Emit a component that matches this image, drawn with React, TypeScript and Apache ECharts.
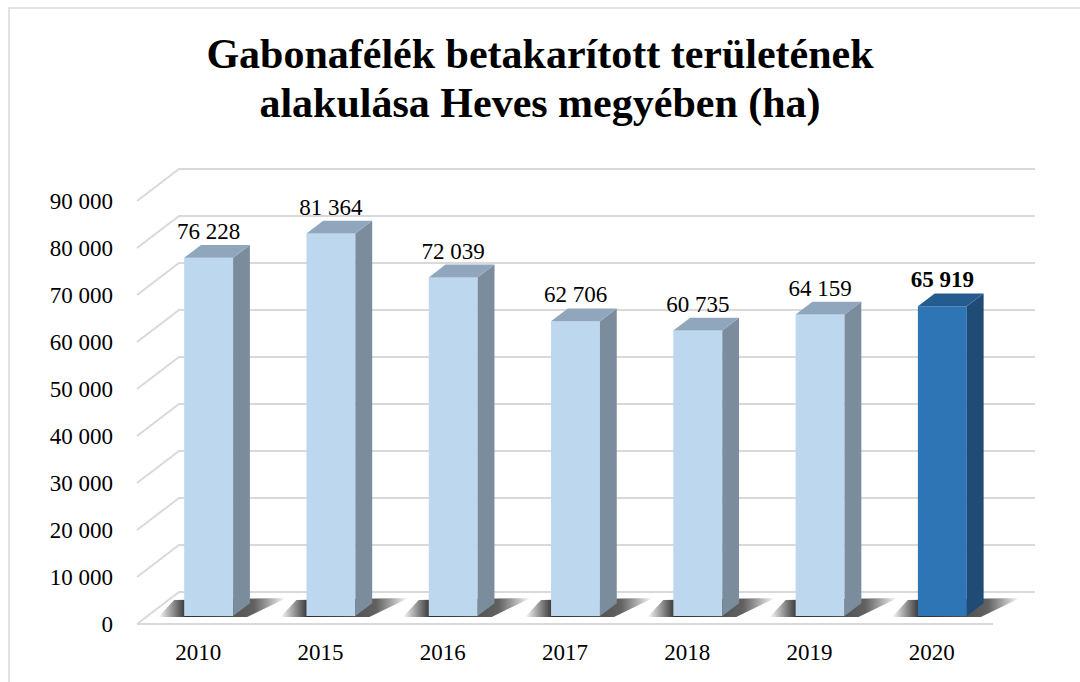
import React, { useEffect, useRef } from "react";
import * as echarts from "echarts";

const categories = ["2010", "2015", "2016", "2017", "2018", "2019", "2020"];
const values = [76228, 81364, 72039, 62706, 60735, 64159, 65919];
const highlighted = [false, false, false, false, false, false, true];
const yTicks = [0, 10000, 20000, 30000, 40000, 50000, 60000, 70000, 80000, 90000];

const titleLines = ["Gabonafélék betakarított területének", "alakulása Heves megyében (ha)"];

const FONT = "'Liberation Serif', 'Times New Roman', serif";
const DX = 42; // full depth offset x
const DY = -32; // full depth offset y
const D0 = 0.25; // bar front depth
const D1 = 0.65; // bar back depth
const GRID = "#d9d9d9";

const fmt = (v: number) => String(v).replace(/\B(?=(\d{3})+(?!\d))/g, " ");

const lightColors = { front: "#BDD7EE", side: "#7B8C9D", top: "#8FA6BC" };
const darkColors = { front: "#2E75B6", side: "#1F4B74", top: "#245C8E" };

export default function App() {
  const ref = useRef<HTMLDivElement>(null);
  useEffect(() => {
    document.body.style.margin = "0";
    const chart = echarts.init(ref.current!, undefined, { renderer: "svg" });
    const option: any = {
      animation: false,
      backgroundColor: "#ffffff",
      graphic: [
        {
          type: "rect",
          shape: { x: 9, y: 8, width: 1100, height: 700 },
          style: { fill: "none", stroke: "#d9d9d9", lineWidth: 1.5 },
          z: 0,
        },
        ...titleLines.map((t, i) => ({
          type: "text",
          left: "center",
          top: 33 + i * 49,
          style: {
            text: t,
            font: `bold 42px ${FONT}`,
            fill: "#000",
          },
          z: 10,
        })),
      ],
      grid: { left: 137, right: 87, top: 201, bottom: 58 },
      xAxis: {
        type: "category",
        data: categories,
        axisLine: { show: false },
        axisTick: { show: false },
        splitLine: { show: false },
        axisLabel: { color: "#000", fontFamily: FONT, fontSize: 23, margin: 17 },
      },
      yAxis: {
        type: "value",
        min: 0,
        max: 90000,
        interval: 10000,
        axisLine: { show: false },
        axisTick: { show: false },
        splitLine: { show: false },
        axisLabel: {
          color: "#000",
          fontFamily: FONT,
          fontSize: 23,
          margin: 24,
          formatter: (v: number) => fmt(v),
        },
      },
      series: [
        {
          type: "custom",
          z: 1,
          silent: true,
          data: yTicks.map((v) => [0, v]),
          renderItem: (params: any, api: any) => {
            const cs = params.coordSys;
            const v = api.value(1);
            const y = api.coord([0, v])[1];
            const xl = cs.x;
            const xr = cs.x + cs.width;
            const children: any[] = [
              {
                type: "polyline",
                shape: {
                  points: [
                    [xl, y],
                    [xl + DX, y + DY],
                    [xr + DX, y + DY],
                  ],
                },
                style: { stroke: GRID, lineWidth: 2, fill: "none" },
              },
            ];
            if (v === 0) {
              children.push({
                type: "line",
                shape: { x1: xl, y1: y, x2: xr, y2: y },
                style: { stroke: GRID, lineWidth: 2 },
              });
            }
            return { type: "group", children };
          },
        },
        {
          type: "custom",
          z: 2,
          data: values.map((v, i) => [i, v]),
          renderItem: (params: any, api: any) => {
            const i = api.value(0);
            const v = api.value(1);
            const top = api.coord([i, v]);
            const base = api.coord([i, 0]);
            const band = api.size([1, 0])[0];
            const w = band * 0.4;
            const ox = D0 * DX;
            const oy = D0 * DY;
            const sdx = (D1 - D0) * DX;
            const sdy = (D1 - D0) * DY;
            const xl = top[0] - w / 2 + ox;
            const xr = top[0] + w / 2 + ox;
            const yt = top[1] + oy;
            const yb = base[1] + oy;
            const hi = highlighted[params.dataIndex];
            const c = hi ? darkColors : lightColors;
            const children: any[] = [
              {
                type: "polygon",
                shape: {
                  points: [
                    [xl - 26, yb + 1],
                    [xl - 10, yb - 16],
                    [xr + sdx + 18, yb + sdy - 5],
                    [xr + sdx + 36, yb + sdy - 5],
                    [xr + 14, yb + 1],
                  ],
                },
                style: {
                  fill: {
                    type: "linear",
                    x: 0,
                    y: 0,
                    x2: 1,
                    y2: 0,
                    colorStops: [
                      { offset: 0, color: "rgba(0,0,0,0)" },
                      { offset: 0.22, color: "rgba(10,10,10,0.85)" },
                      { offset: 0.75, color: "rgba(30,30,30,0.7)" },
                      { offset: 1, color: "rgba(0,0,0,0)" },
                    ],
                  },
                },
              },
              {
                type: "rect",
                shape: { x: xl, y: yt, width: w, height: yb - yt },
                style: { fill: c.front },
              },
              {
                type: "polygon",
                shape: {
                  points: [
                    [xr, yt],
                    [xr + sdx, yt + sdy],
                    [xr + sdx, yb + sdy],
                    [xr, yb],
                  ],
                },
                style: { fill: c.side },
              },
              {
                type: "polygon",
                shape: {
                  points: [
                    [xl, yt],
                    [xl + sdx, yt + sdy],
                    [xr + sdx, yt + sdy],
                    [xr, yt],
                  ],
                },
                style: { fill: c.top },
              },
              {
                type: "text",
                style: {
                  text: fmt(v),
                  x: (xl + xr) / 2,
                  y: yt + sdy - 2,
                  align: "center",
                  verticalAlign: "bottom",
                  font: `${hi ? "bold " : ""}23px ${FONT}`,
                  fill: "#000",
                },
              },
            ];
            return { type: "group", children };
          },
        },
      ],
    };
    chart.setOption(option);
    return () => chart.dispose();
  }, []);
  return (
    <div
      ref={ref}
      style={{ width: 1080, height: 682, position: "absolute", left: 0, top: 0 }}
    />
  );
}
